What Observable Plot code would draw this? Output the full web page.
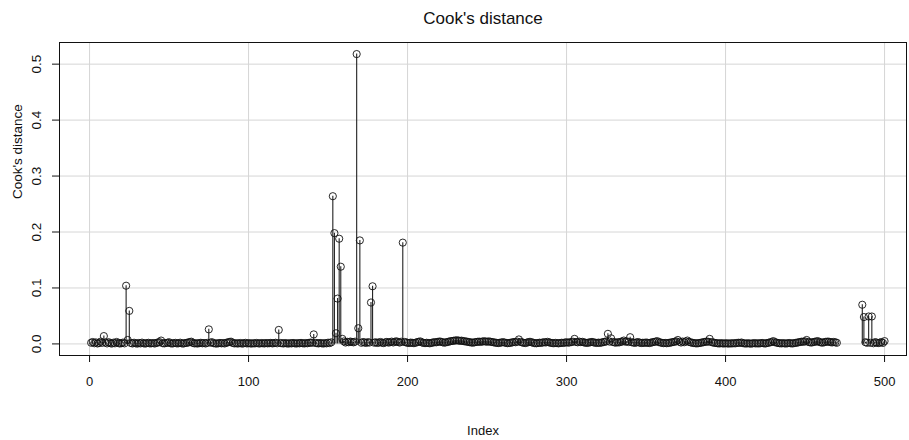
<!DOCTYPE html>
<html>
<head>
<meta charset="utf-8">
<script src="https://cdn.jsdelivr.net/npm/d3@7"></script>
<script src="https://cdn.jsdelivr.net/npm/@observablehq/plot@0.6"></script>
<style>
  html, body { margin: 0; padding: 0; background: #fff; }
  #chart svg { display: block; }
</style>
</head>
<body>
<div id="chart"></div>
<script>
// Cook's distance per observation, observations 1..470
const cooksA = [
  0.0021, 0.0034, 0.0012, 0.0027, 0.0008, 0.0015, 0.0041, 0.0019, 0.0140, 0.0026,
  0.0009, 0.0031, 0.0014, 0.0006, 0.0022, 0.0011, 0.0035, 0.0018, 0.0007, 0.0013,
  0.0024, 0.0010, 0.1040, 0.0070, 0.0590, 0.0016, 0.0008, 0.0021, 0.0012, 0.0005,
  0.0017, 0.0009, 0.0023, 0.0011, 0.0006, 0.0014, 0.0020, 0.0008, 0.0012, 0.0015,
  0.0007, 0.0018, 0.0025, 0.0032, 0.0060, 0.0013, 0.0009, 0.0016, 0.0021, 0.0030,
  0.0011, 0.0007, 0.0014, 0.0019, 0.0008, 0.0012, 0.0022, 0.0010, 0.0006, 0.0015,
  0.0018, 0.0025, 0.0033, 0.0040, 0.0017, 0.0009, 0.0012, 0.0007, 0.0014, 0.0020,
  0.0011, 0.0016, 0.0008, 0.0019, 0.0260, 0.0022, 0.0031, 0.0013, 0.0009, 0.0006,
  0.0012, 0.0017, 0.0010, 0.0015, 0.0008, 0.0021, 0.0027, 0.0035, 0.0040, 0.0018,
  0.0009, 0.0013, 0.0007, 0.0011, 0.0016, 0.0005, 0.0012, 0.0019, 0.0008, 0.0014,
  0.0010, 0.0006, 0.0013, 0.0009, 0.0017, 0.0011, 0.0007, 0.0015, 0.0012, 0.0008,
  0.0016, 0.0010, 0.0013, 0.0018, 0.0009, 0.0014, 0.0021, 0.0011, 0.0250, 0.0016,
  0.0012, 0.0008, 0.0015, 0.0010, 0.0006, 0.0013, 0.0009, 0.0017, 0.0011, 0.0007,
  0.0014, 0.0010, 0.0018, 0.0012, 0.0008, 0.0015, 0.0011, 0.0019, 0.0024, 0.0020,
  0.0170, 0.0018, 0.0013, 0.0009, 0.0016, 0.0011, 0.0007, 0.0014, 0.0010, 0.0022,
  0.0015, 0.0028, 0.2640, 0.1980, 0.0190, 0.0810, 0.1880, 0.1380, 0.0090, 0.0045,
  0.0025, 0.0038, 0.0030, 0.0042, 0.0035, 0.0028, 0.0040, 0.5180, 0.0280, 0.1850,
  0.0020, 0.0033, 0.0026, 0.0018, 0.0031, 0.0024, 0.0740, 0.1030, 0.0022, 0.0029,
  0.0017, 0.0025, 0.0034, 0.0021, 0.0015, 0.0028, 0.0036, 0.0023, 0.0030, 0.0041,
  0.0026, 0.0038, 0.0047, 0.0033, 0.0024, 0.0039, 0.1810, 0.0035, 0.0028, 0.0020,
  0.0016, 0.0024, 0.0019, 0.0013, 0.0022, 0.0030, 0.0038, 0.0045, 0.0027, 0.0018,
  0.0014, 0.0021, 0.0016, 0.0011, 0.0019, 0.0025, 0.0032, 0.0028, 0.0036, 0.0043,
  0.0039, 0.0030, 0.0022, 0.0027, 0.0034, 0.0041, 0.0048, 0.0052, 0.0057, 0.0061,
  0.0064, 0.0060, 0.0055, 0.0058, 0.0050, 0.0046, 0.0042, 0.0037, 0.0031, 0.0026,
  0.0022, 0.0028, 0.0033, 0.0038, 0.0041, 0.0036, 0.0043, 0.0047, 0.0044, 0.0039,
  0.0045, 0.0040, 0.0034, 0.0029, 0.0024, 0.0019, 0.0015, 0.0020, 0.0026, 0.0031,
  0.0025, 0.0018, 0.0013, 0.0017, 0.0022, 0.0028, 0.0035, 0.0030, 0.0041, 0.0080,
  0.0036, 0.0027, 0.0020, 0.0015, 0.0023, 0.0032, 0.0038, 0.0029, 0.0021, 0.0014,
  0.0011, 0.0016, 0.0022, 0.0019, 0.0025, 0.0031, 0.0026, 0.0037, 0.0028, 0.0020,
  0.0015, 0.0012, 0.0018, 0.0014, 0.0010, 0.0016, 0.0021, 0.0017, 0.0024, 0.0030,
  0.0022, 0.0027, 0.0033, 0.0040, 0.0090, 0.0035, 0.0029, 0.0041, 0.0032, 0.0037,
  0.0026, 0.0021, 0.0018, 0.0024, 0.0030, 0.0036, 0.0027, 0.0022, 0.0017, 0.0023,
  0.0019, 0.0025, 0.0031, 0.0038, 0.0044, 0.0180, 0.0041, 0.0100, 0.0035, 0.0028,
  0.0022, 0.0031, 0.0026, 0.0037, 0.0043, 0.0060, 0.0039, 0.0045, 0.0034, 0.0120,
  0.0030, 0.0024, 0.0019, 0.0027, 0.0033, 0.0022, 0.0016, 0.0021, 0.0018, 0.0025,
  0.0020, 0.0015, 0.0023, 0.0029, 0.0036, 0.0041, 0.0050, 0.0032, 0.0026, 0.0019,
  0.0014, 0.0018, 0.0012, 0.0017, 0.0022, 0.0027, 0.0033, 0.0040, 0.0046, 0.0070,
  0.0038, 0.0025, 0.0042, 0.0030, 0.0044, 0.0060, 0.0035, 0.0028, 0.0021, 0.0016,
  0.0012, 0.0009, 0.0014, 0.0019, 0.0024, 0.0030, 0.0036, 0.0043, 0.0039, 0.0090,
  0.0033, 0.0026, 0.0020, 0.0015, 0.0011, 0.0008, 0.0013, 0.0010, 0.0007, 0.0012,
  0.0009, 0.0006, 0.0011, 0.0008, 0.0014, 0.0010, 0.0016, 0.0021, 0.0018, 0.0025,
  0.0013, 0.0009, 0.0007, 0.0012, 0.0008, 0.0005, 0.0010, 0.0014, 0.0009, 0.0011,
  0.0008, 0.0013, 0.0017, 0.0011, 0.0007, 0.0015, 0.0021, 0.0028, 0.0034, 0.0050,
  0.0031, 0.0024, 0.0017, 0.0012, 0.0009, 0.0014, 0.0010, 0.0007, 0.0012, 0.0016,
  0.0011, 0.0008, 0.0013, 0.0018, 0.0023, 0.0029, 0.0035, 0.0041, 0.0038, 0.0045,
  0.0070, 0.0036, 0.0029, 0.0024, 0.0031, 0.0038, 0.0043, 0.0050, 0.0034, 0.0027,
  0.0022, 0.0030, 0.0037, 0.0041, 0.0040, 0.0032, 0.0026, 0.0035, 0.0029, 0.0020
];

// Cook's distance for the last block of observations, starting at 486
const cooksBStart = 486;
const cooksB = [
  0.0700, 0.0480, 0.0030, 0.0020, 0.0490, 0.0020, 0.0490, 0.0012, 0.0031, 0.0024,
  0.0015, 0.0022, 0.0033, 0.0018, 0.0050
];

const xTicks = [0, 100, 200, 300, 400, 500];
const yTicks = [0.0, 0.1, 0.2, 0.3, 0.4, 0.5];

const obs = [
  ...cooksA.map((d, k) => ({index: k + 1, cook: d})),
  ...cooksB.map((d, k) => ({index: cooksBStart + k, cook: d}))
];

const ink = "#111";
const gridColor = "#d6d6d6";

const chart = Plot.plot({
  width: 909,
  height: 440,
  marginTop: 42,
  marginBottom: 85,
  marginLeft: 59,
  marginRight: 3,
  style: {
    fontFamily: "'Liberation Sans', Arial, Helvetica, sans-serif",
    fontSize: "13px",
    background: "#fff",
    color: ink
  },
  x: {domain: [-18.9, 513.8]},
  y: {domain: [-0.0207, 0.5387]},
  marks: [
    Plot.gridX(xTicks, {stroke: gridColor, strokeOpacity: 1, strokeWidth: 1}),
    Plot.gridY(yTicks, {stroke: gridColor, strokeOpacity: 1, strokeWidth: 1}),
    Plot.ruleX(obs, {x: "index", y1: 0, y2: "cook", stroke: "#222", strokeWidth: 1.1}),
    Plot.dot(obs, {x: "index", y: "cook", r: 3.6, stroke: ink, strokeWidth: 0.9, fill: "none"}),
    Plot.frame({stroke: ink, strokeWidth: 1}),
    Plot.axisX({ticks: xTicks, tickSize: 7, tickPadding: 14, fontSize: 13, label: null, stroke: ink}),
    Plot.axisY({ticks: yTicks, tickSize: 7, tickPadding: 12, tickRotate: -90, fontSize: 13.5,
                tickFormat: d3.format(".1f"), label: null, stroke: ink}),
    Plot.text(["Cook's distance"], {frameAnchor: "top", dy: -31, fontSize: 17, fill: ink}),
    Plot.text(["Index"], {frameAnchor: "bottom", dy: 79, fontSize: 13, fill: ink}),
    Plot.text(["Cook's distance"], {frameAnchor: "left", dx: -42, rotate: -90, fontSize: 13.5, fill: ink})
  ]
});

document.getElementById("chart").appendChild(chart);
</script>
</body>
</html>
